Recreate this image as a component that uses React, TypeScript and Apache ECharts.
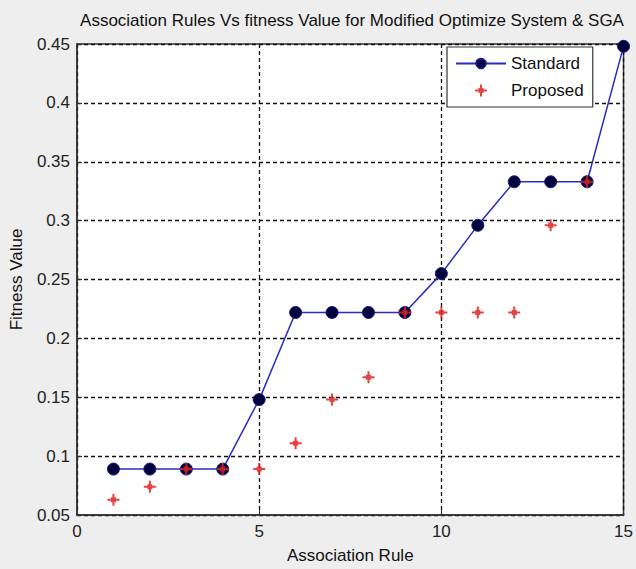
import React, { useEffect, useRef } from "react";
import * as echarts from "echarts";

const rules = [1, 2, 3, 4, 5, 6, 7, 8, 9, 10, 11, 12, 13, 14, 15];
const standardValues = [0.089, 0.089, 0.089, 0.089, 0.148, 0.222, 0.222, 0.222, 0.222, 0.255, 0.296, 0.333, 0.333, 0.333, 0.448];
const proposedRules = [1, 2, 3, 4, 5, 6, 7, 8, 9, 10, 11, 12, 13, 14];
const proposedValues = [0.063, 0.074, 0.089, 0.089, 0.089, 0.111, 0.148, 0.167, 0.222, 0.222, 0.222, 0.222, 0.296, 0.333];

const FONT = "'Liberation Sans', Arial, sans-serif";
const STAR = "path://M5,0h2v5h5v2h-5v5h-2v-5h-5v-2h5z M3.5,3.5h5v5h-5z";

export default function App() {
  const ref = useRef<HTMLDivElement>(null);
  useEffect(() => {
    const chart = echarts.init(ref.current!, null, { renderer: "svg" });
    chart.setOption({
      animation: false,
      backgroundColor: "#eeeeee",
      title: {
        text: "Association Rules Vs fitness Value for Modified Optimize System & SGA",
        left: 347,
        textAlign: "center",
        top: 7,
        textStyle: { fontFamily: FONT, fontSize: 17, fontWeight: "normal", color: "#111" },
      },
      legend: {
        left: 447,
        top: 47,
        orient: "vertical",
        backgroundColor: "#ffffff",
        borderColor: "#333",
        borderWidth: 1.2,
        borderRadius: 0,
        padding: [8, 9, 8, 8],
        itemWidth: 50,
        itemHeight: 12,
        itemGap: 10,
        textStyle: { fontFamily: FONT, fontSize: 17, color: "#111" },
        data: ["Standard", "Proposed"],
      },
      grid: {
        left: 75,
        right: 12,
        top: 44,
        bottom: 52,
        show: true,
        backgroundColor: "#ffffff",
        borderColor: "#333",
        borderWidth: 1.5,
      },
      xAxis: {
        type: "value",
        min: 0,
        max: 15,
        interval: 5,
        name: "Association Rule",
        nameLocation: "middle",
        nameGap: 32,
        nameTextStyle: { fontFamily: FONT, fontSize: 17, color: "#111" },
        axisLine: { show: true, lineStyle: { color: "#333", width: 1.5 } },
        axisTick: { show: true, inside: true, length: 5, lineStyle: { color: "#333" } },
        axisLabel: { fontFamily: FONT, fontSize: 17, color: "#222", margin: 8 },
        splitLine: { show: true, lineStyle: { color: "#111", type: [4, 3], width: 1.3 } },
      },
      yAxis: {
        type: "value",
        min: 0.05,
        max: 0.45,
        interval: 0.05,
        name: "Fitness Value",
        nameLocation: "middle",
        nameGap: 52,
        nameTextStyle: { fontFamily: FONT, fontSize: 17, color: "#111" },
        axisLine: { show: true, lineStyle: { color: "#333", width: 1.5 } },
        axisTick: { show: true, inside: true, length: 5, lineStyle: { color: "#333" } },
        axisLabel: {
          fontFamily: FONT,
          fontSize: 17,
          color: "#222",
          margin: 7,
          formatter: (v: number) => String(+v.toFixed(2)),
        },
        splitLine: { show: true, lineStyle: { color: "#111", type: [4, 3], width: 1.3 } },
      },
      series: [
        {
          name: "Standard",
          type: "line",
          data: rules.map((r, i) => [r, standardValues[i]]),
          symbol: "circle",
          symbolSize: 12,
          clip: false,
          lineStyle: { color: "#2b2bc0", width: 1.5 },
          itemStyle: { color: "#00003a", borderColor: "#1a1a80", borderWidth: 1 },
          z: 2,
        },
        {
          name: "Proposed",
          type: "scatter",
          data: proposedRules.map((r, i) => [r, proposedValues[i]]),
          symbol: STAR,
          symbolSize: 12,
          itemStyle: { color: "#e02222", opacity: 0.85 },
          z: 3,
        },
      ],
    });
    return () => chart.dispose();
  }, []);
  return <div ref={ref} style={{ position: "fixed", left: 0, top: 0, width: 636, height: 569 }} />;
}
